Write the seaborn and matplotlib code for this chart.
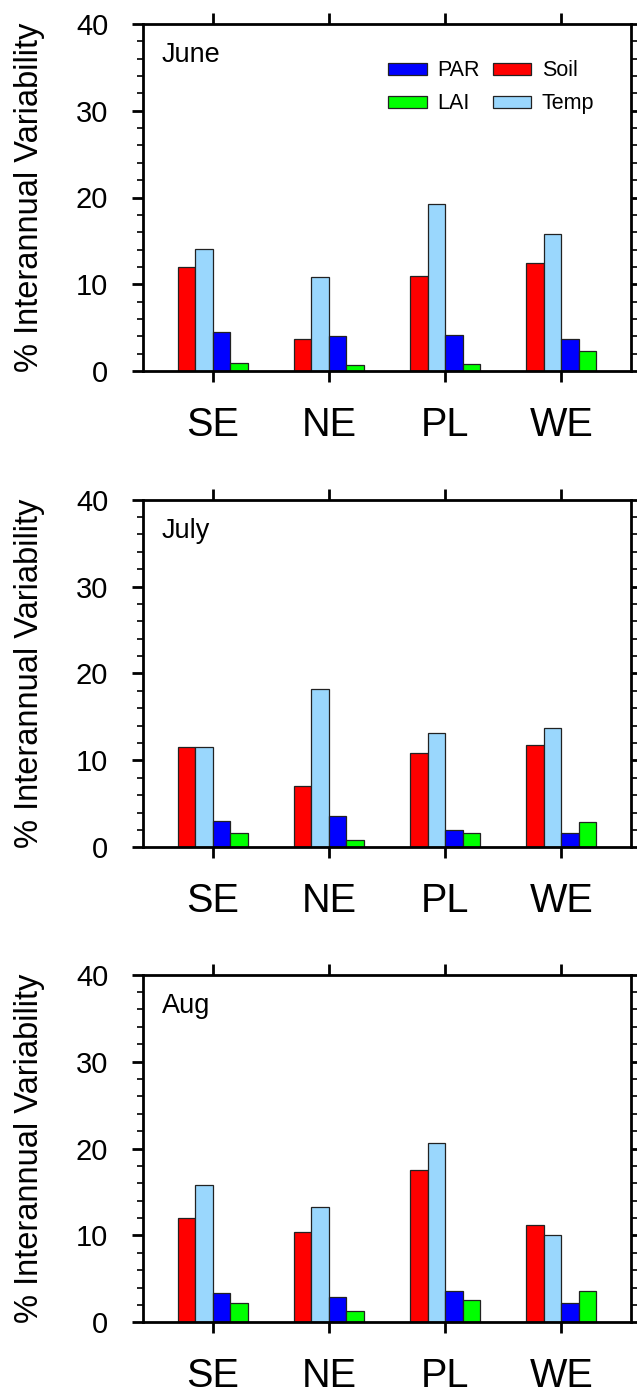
import matplotlib
matplotlib.use("Agg")
import matplotlib.pyplot as plt
import seaborn as sns
import pandas as pd
from matplotlib.patches import Patch
from matplotlib.ticker import MultipleLocator

# ---------------- data ----------------
regions = ["SE", "NE", "PL", "WE"]
variables = ["Soil", "Temp", "PAR", "LAI"]
months = ["June", "July", "Aug"]

june_soil = [12.0, 3.7, 11.0, 12.5]
june_temp = [14.1, 10.8, 19.3, 15.8]
june_par = [4.5, 4.0, 4.2, 3.7]
june_lai = [0.9, 0.7, 0.8, 2.3]

july_soil = [11.5, 7.1, 10.9, 11.8]
july_temp = [11.5, 18.2, 13.1, 13.7]
july_par = [3.0, 3.6, 2.0, 1.6]
july_lai = [1.7, 0.8, 1.7, 2.9]

aug_soil = [12.0, 10.4, 17.5, 11.2]
aug_temp = [15.8, 13.3, 20.6, 10.0]
aug_par = [3.4, 2.9, 3.6, 2.2]
aug_lai = [2.2, 1.3, 2.6, 3.6]

month_data = {
    "June": [june_soil, june_temp, june_par, june_lai],
    "July": [july_soil, july_temp, july_par, july_lai],
    "Aug": [aug_soil, aug_temp, aug_par, aug_lai],
}

colors = {"Soil": "#FF0000", "Temp": "#9AD7FD", "PAR": "#0000FF", "LAI": "#00FF00"}
legend_order = ["PAR", "LAI", "Soil", "Temp"]
y_ticks = [0, 10, 20, 30, 40]

# ---------------- style ----------------
sns.set_style("ticks")
plt.rcParams["font.family"] = ["Liberation Sans", "DejaVu Sans"]
for key in ["text.color", "axes.labelcolor", "xtick.color", "ytick.color", "axes.edgecolor"]:
    plt.rcParams[key] = "black"

W, H = 637, 1399
fig = plt.figure(figsize=(W / 100, H / 100), dpi=100)

ax_left, ax_right = 143, 631
panel_tb = [(24, 371), (499.7, 847.3), (974.7, 1322.3)]

for i, month in enumerate(months):
    top, bot = panel_tb[i]
    ax = fig.add_axes([ax_left / W, 1 - bot / H, (ax_right - ax_left) / W, (bot - top) / H])
    rows = []
    for var, vals in zip(variables, month_data[month]):
        for r, v in zip(regions, vals):
            rows.append({"region": r, "var": var, "value": v})
    df = pd.DataFrame(rows)
    sns.barplot(data=df, x="region", y="value", hue="var", order=regions,
                hue_order=variables, palette=colors, width=0.6, dodge=True,
                edgecolor="#222222", linewidth=0.9, errorbar=None, ax=ax,
                legend=False, saturation=1)
    ax.set_xlim(-0.6, 3.6)
    ax.set_ylim(0, 40)
    ax.set_yticks(y_ticks)
    ax.yaxis.set_minor_locator(MultipleLocator(2))
    ax.set_xlabel("")
    ax.set_ylabel("% Interannual Variability", fontsize=23.5, color="black")
    ax.yaxis.set_label_coords(-0.2, 0.5)
    for s in ax.spines.values():
        s.set_visible(True)
        s.set_linewidth(2.0)
        s.set_color("black")
    ax.tick_params(axis="both", which="major", direction="out", length=8, width=2.0,
                   color="black", labelcolor="black")
    ax.tick_params(axis="x", top=True, bottom=True, labelsize=28.5, pad=17)
    ax.tick_params(axis="y", left=True, right=True, labelsize=21, pad=17)
    ax.tick_params(axis="y", which="minor", direction="out", length=4, width=1.2,
                   left=True, right=True, color="black")
    ax.text(0.038, 0.89, month, transform=ax.transAxes, fontsize=19.5,
            ha="left", va="baseline", color="black")
    if i == 0:
        handles = [Patch(facecolor=colors[v], edgecolor="#222222", linewidth=0.9, label=v)
                   for v in legend_order]
        leg = ax.legend(handles=handles, ncol=2, loc="upper left",
                        bbox_to_anchor=(0.503, 0.895), frameon=False, fontsize=15.5,
                        handlelength=1.77, handleheight=0.47, handletextpad=0.5,
                        columnspacing=0.6, labelspacing=0.55, borderpad=0,
                        borderaxespad=0)
        for t in leg.get_texts():
            t.set_color("black")

fig.savefig("out.png", dpi=100)
